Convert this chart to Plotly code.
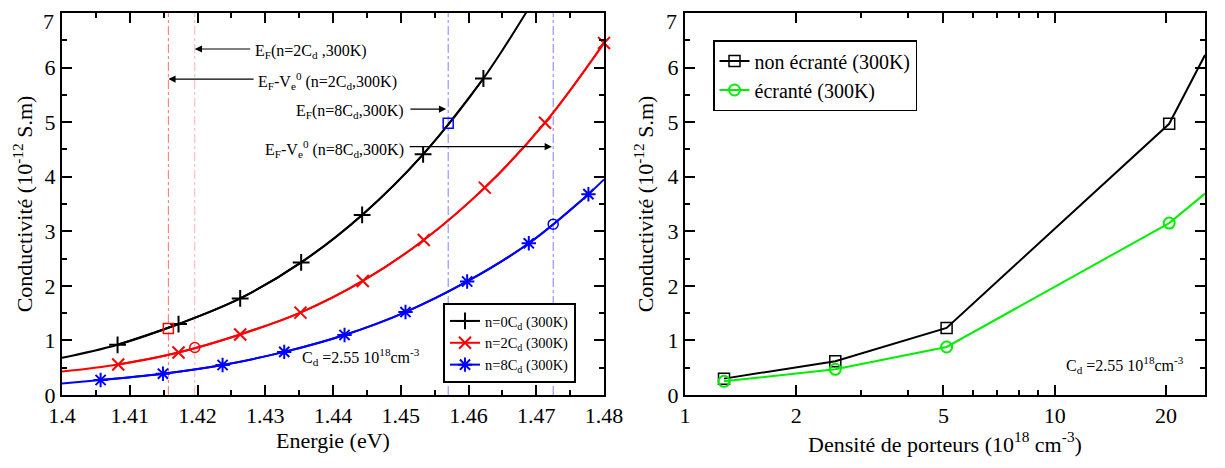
import plotly.graph_objects as go

# ---------------- data: left panel (Energie vs Conductivité) ----------------
E_n0 = [1.4082, 1.4172, 1.4263, 1.4353, 1.4443, 1.4533, 1.4622]
S_n0 = [0.92, 1.30, 1.77, 2.43, 3.30, 4.41, 5.80]
E_n0_curve = [1.4] + E_n0 + [1.4712]
S_n0_curve = [0.68] + S_n0 + [7.56]

E_n2 = [1.4083, 1.4172, 1.4263, 1.4352, 1.4444, 1.4534, 1.4624, 1.4713, 1.48]
S_n2 = [0.56, 0.78, 1.11, 1.51, 2.09, 2.84, 3.80, 4.99, 6.45]
E_n2_curve = [1.4] + E_n2
S_n2_curve = [0.43] + S_n2

E_n8 = [1.4057, 1.4149, 1.4237, 1.4328, 1.4417, 1.4507, 1.4598, 1.4689, 1.4777]
S_n8 = [0.275, 0.39, 0.55, 0.79, 1.10, 1.52, 2.08, 2.78, 3.68]
E_n8_curve = [1.4] + E_n8 + [1.48]
S_n8_curve = [0.21] + S_n8 + [3.95]

# Fermi-level markers
EF_lines = [1.4157, 1.4196, 1.4570, 1.4725]
EF_line_colors = ["#ff7070", "#ffb0b0", "#8080ff", "#8080ff"]
sq_red = (1.4157, 1.22)
circ_red = (1.4196, 0.87)
sq_blue = (1.4570, 4.98)
circ_blue = (1.4725, 3.13)

# ---------------- data: right panel (densité vs conductivité) ----------------
density = [1.275, 2.55, 5.1, 20.4, 25.5]
sig_non_ecr = [0.30, 0.62, 1.23, 4.97, 6.23]
sig_ecr = [0.25, 0.47, 0.88, 3.15, 3.69]

# tick labels
y_tickvals = [0, 1, 2, 3, 4, 5, 6, 7]
y_ticktext = ["0", "1", "2", "3", "4", "5", "6", ""]   # "7" drawn as a shifted label (as in reference)
x2_tickvals = [1, 2, 5, 10, 20]
x2_ticktext = ["1", "2", "5", "10", "20"]
x2_minorvals = [3, 4, 6, 7, 8, 9]

FONT = "Liberation Serif, Times New Roman, DejaVu Serif, serif"
OFF = 8  # page body margin offset (px)
W, H = 1225, 468

fig = go.Figure()

series = [
    (E_n0, S_n0, E_n0_curve, S_n0_curve, "black", "cross-thin-open", "n=0C<sub>d</sub> (300K)"),
    (E_n2, S_n2, E_n2_curve, S_n2_curve, "red", "x-thin-open", "n=2C<sub>d</sub> (300K)"),
    (E_n8, S_n8, E_n8_curve, S_n8_curve, "blue", "asterisk-open", "n=8C<sub>d</sub> (300K)"),
]
for i, (ex, sx, ec, sc, col, sym, name) in enumerate(series):
    fig.add_trace(go.Scatter(x=ec, y=sc, mode="lines", line=dict(color=col, width=2, shape="spline"),
                             showlegend=False, hoverinfo="skip", xaxis="x", yaxis="y"))
    fig.add_trace(go.Scatter(x=ex, y=sx, mode="lines+markers", name=name,
                             line=dict(color=col, width=2, shape="spline"),
                             marker=dict(symbol=sym, size=12, color=col, line=dict(color=col, width=2)),
                             cliponaxis=False, legendgroup="g%d" % i, legend="legend",
                             xaxis="x", yaxis="y"))

for (px, py), sym, col in [(sq_red, "square-open", "red"), (circ_red, "circle-open", "red"),
                           (sq_blue, "square-open", "blue"), (circ_blue, "circle-open", "blue")]:
    fig.add_trace(go.Scatter(x=[px], y=[py], mode="markers", showlegend=False,
                             marker=dict(symbol=sym, size=10, color=col, line=dict(color=col, width=1.5)),
                             xaxis="x", yaxis="y"))

fig.add_trace(go.Scatter(x=density, y=sig_non_ecr, mode="lines+markers", name="non écranté (300K)",
                         line=dict(color="black", width=2),
                         marker=dict(symbol="square-open", size=11, color="black", line=dict(color="black", width=1.5)),
                         cliponaxis=False, legend="legend2", legendgroup="r1", xaxis="x2", yaxis="y2"))
fig.add_trace(go.Scatter(x=density, y=sig_ecr, mode="lines+markers", name="écranté (300K)",
                         line=dict(color="#00ee00", width=2),
                         marker=dict(symbol="circle-open", size=11, color="#00ee00", line=dict(color="#00ee00", width=2)),
                         cliponaxis=False, legend="legend2", legendgroup="r2", xaxis="x2", yaxis="y2"))

shapes = []
for xv, col in zip(EF_lines, EF_line_colors):
    shapes.append(dict(type="line", xref="x", yref="y", x0=xv, x1=xv, y0=0, y1=7,
                       line=dict(color=col, width=1, dash="dashdot"), layer="below"))

afont = dict(family=FONT, size=16, color="black")
annotations = []
arrows = [
    (1.4196, 6.34, 1.4280, 6.34),
    (1.4157, 5.79, 1.4285, 5.79),
    (1.4567, 5.24, 1.4512, 5.24),
    (1.4723, 4.55, 1.4511, 4.55),
]
for hx, hy, tx, ty in arrows:
    annotations.append(dict(x=hx, y=hy, ax=tx, ay=ty, xref="x", yref="y", axref="x", ayref="y",
                            text="", showarrow=True, arrowhead=2, arrowsize=1.2, arrowwidth=1.2,
                            arrowcolor="black"))
labels = [
    (1.4282, 6.30, "left", "E<sub>F</sub>(n=2C<sub>d</sub> ,300K)"),
    (1.4287, 5.75, "left", "E<sub>F</sub>-V<sub>e</sub><sup>0</sup> (n=2C<sub>d</sub>,300K)"),
    (1.4508, 5.20, "right", "E<sub>F</sub>(n=8C<sub>d</sub>,300K)"),
    (1.4508, 4.51, "right", "E<sub>F</sub>-V<sub>e</sub><sup>0</sup> (n=8C<sub>d</sub>,300K)"),
    (1.4352, 0.70, "left", "C<sub>d</sub> =2.55 10<sup>18</sup>cm<sup>-3</sup>"),
]
for x, y, anc, t in labels:
    annotations.append(dict(x=x, y=y, xref="x", yref="y", text=t, showarrow=False,
                            xanchor=anc, yanchor="middle", font=afont))
annotations.append(dict(x=1.0255, y=0.55, xref="x2", yref="y2", text="C<sub>d</sub> =2.55 10<sup>18</sup>cm<sup>-3</sup>",
                        showarrow=False, xanchor="left", yanchor="middle", font=afont))

tickfont = dict(family=FONT, size=22, color="black")
titlefont = dict(family=FONT, size=22, color="black")
common = dict(showline=True, linecolor="black", linewidth=2, mirror="allticks", ticks="inside",
              ticklen=10, tickwidth=2, tickcolor="black", showgrid=False, zeroline=False,
              tickfont=tickfont, automargin=False, ticklabeloverflow="allow")

# screen-pixel targets of the plot areas (reference), converted to figure coords
L_x0, L_x1 = 62 - OFF, 604 - OFF
R_x0, R_x1 = 685 - OFF, 1205 - OFF
TOP, BOT = 13 - OFF, 395 - OFF
PH = BOT - TOP

# top "7" labels, drawn slightly below the top edge like the reference
for xpix, yref in [(L_x0 - 6, "y"), (R_x0 - 6, "y2")]:
    annotations.append(dict(x=xpix / W, y=6.85, xref="paper", yref=yref, text=y_tickvals[-1] and "7",
                            showarrow=False, xanchor="right", yanchor="middle",
                            font=tickfont))

fig.update_layout(
    width=W, height=H,
    margin=dict(l=0, r=0, t=TOP, b=H - BOT, autoexpand=False),
    paper_bgcolor="white", plot_bgcolor="white",
    font=dict(family=FONT, color="black"),
    xaxis=dict(domain=[L_x0 / W, L_x1 / W], range=[1.4, 1.48], dtick=0.01, tick0=1.4,
               minor=dict(dtick=0.005, ticks="inside", ticklen=5, tickwidth=2, tickcolor="black"),
               title=dict(text="Energie (eV)", font=titlefont, standoff=4), anchor="y", **common),
    yaxis=dict(domain=[0, 1], range=[0, 7], tickmode="array", tickvals=y_tickvals, ticktext=y_ticktext,
               minor=dict(dtick=0.5, ticks="inside", ticklen=5, tickwidth=2, tickcolor="black"),
               title=dict(text="Conductivité (10<sup>-12</sup> S.m)", font=titlefont, standoff=6),
               anchor="x", **common),
    xaxis2=dict(domain=[R_x0 / W, R_x1 / W], type="log", range=[0, 1.4065],
                tickmode="array", tickvals=x2_tickvals, ticktext=x2_ticktext,
                minor=dict(tickmode="array", tickvals=x2_minorvals, ticks="inside", ticklen=5,
                           tickwidth=2, tickcolor="black"),
                title=dict(text="Densité de porteurs (10<sup>18</sup> cm<sup>-3</sup>)", font=titlefont, standoff=4),
                anchor="y2", **common),
    yaxis2=dict(domain=[0, 1], range=[0, 7], tickmode="array", tickvals=y_tickvals, ticktext=y_ticktext,
                minor=dict(dtick=0.5, ticks="inside", ticklen=5, tickwidth=2, tickcolor="black"),
                title=dict(text="Conductivité (10<sup>-12</sup> S.m)", font=titlefont, standoff=8),
                anchor="x2", **common),
    legend=dict(x=(443 - OFF) / W, y=(BOT - (303 - OFF)) / PH, xref="paper", yref="paper",
                xanchor="left", yanchor="top", bgcolor="white", bordercolor="black", borderwidth=2,
                font=dict(family=FONT, size=14.5, color="black"), traceorder="grouped", tracegroupgap=0),
    legend2=dict(x=(713 - OFF) / W, y=(BOT - (40 - OFF)) / PH, xref="paper", yref="paper",
                 xanchor="left", yanchor="top", bgcolor="white", bordercolor="black", borderwidth=1.5,
                 font=dict(family=FONT, size=20, color="black"), traceorder="grouped", tracegroupgap=0),
    shapes=shapes,
    annotations=annotations,
)

fig.write_html("out.html")
